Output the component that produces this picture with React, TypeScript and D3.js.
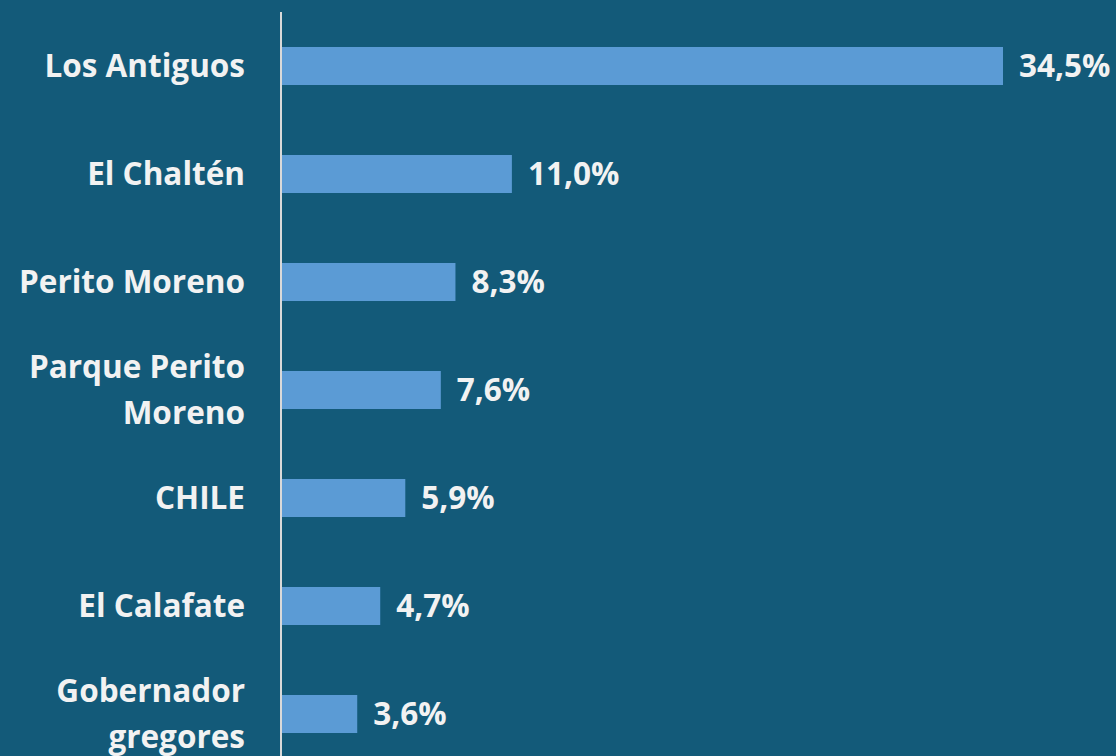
import React from "react";
import * as d3 from "d3";

const categories = [
  "Los Antiguos",
  "El Chaltén",
  "Perito Moreno",
  "Parque Perito Moreno",
  "CHILE",
  "El Calafate",
  "Gobernador gregores",
];
const values = [34.5, 11.0, 8.3, 7.6, 5.9, 4.7, 3.6];

const W = 1116;
const H = 756;
const FONT = "'Open Sans', 'Liberation Sans', sans-serif";

function wrap(label: string, maxChars: number): string[] {
  const words = label.split(" ");
  const lines: string[] = [];
  let cur = "";
  for (const w of words) {
    const next = cur ? cur + " " + w : w;
    if (next.length > maxChars && cur) {
      lines.push(cur);
      cur = w;
    } else cur = next;
  }
  if (cur) lines.push(cur);
  return lines;
}

export default function App() {
  const x0 = 282;
  const x = d3.scaleLinear().domain([0, 34.5]).range([x0, 1003]);
  const y = d3
    .scaleBand<string>()
    .domain(categories)
    .range([12, 768])
    .paddingInner(0.648)
    .paddingOuter(0.324);
  const fmt = (v: number) => v.toFixed(1).replace(".", ",") + "%";
  const fs = 31.5;
  const lh = 46;

  return (
    <svg
      width={W}
      height={H}
      style={{ position: "absolute", left: 0, top: 0, display: "block" }}
    >
      <rect width={W} height={H} fill="#135a79" />
      {categories.map((c, i) => {
        const yc = (y(c) as number) + y.bandwidth() / 2;
        const lines = wrap(c, 14);
        return (
          <g key={c}>
            <rect
              x={x0}
              y={y(c)}
              width={x(values[i]) - x0}
              height={y.bandwidth()}
              fill="#5b9bd5"
            />
            {lines.map((ln, j) => (
              <text
                key={j}
                x={245}
                y={yc + (j - (lines.length - 1) / 2) * lh}
                dy="0.35em"
                textAnchor="end"
                fill="#f2f2f2"
                fontFamily={FONT}
                fontWeight="bold"
                fontSize={fs}
              >
                {ln}
              </text>
            ))}
            <text
              x={x(values[i]) + 16}
              y={yc}
              dy="0.35em"
              fill="#f2f2f2"
              fontFamily={FONT}
              fontWeight="bold"
              fontSize={fs}
            >
              {fmt(values[i])}
            </text>
          </g>
        );
      })}
      <line x1={281} x2={281} y1={12} y2={H} stroke="#d9d9d9" strokeWidth={2} />
    </svg>
  );
}
